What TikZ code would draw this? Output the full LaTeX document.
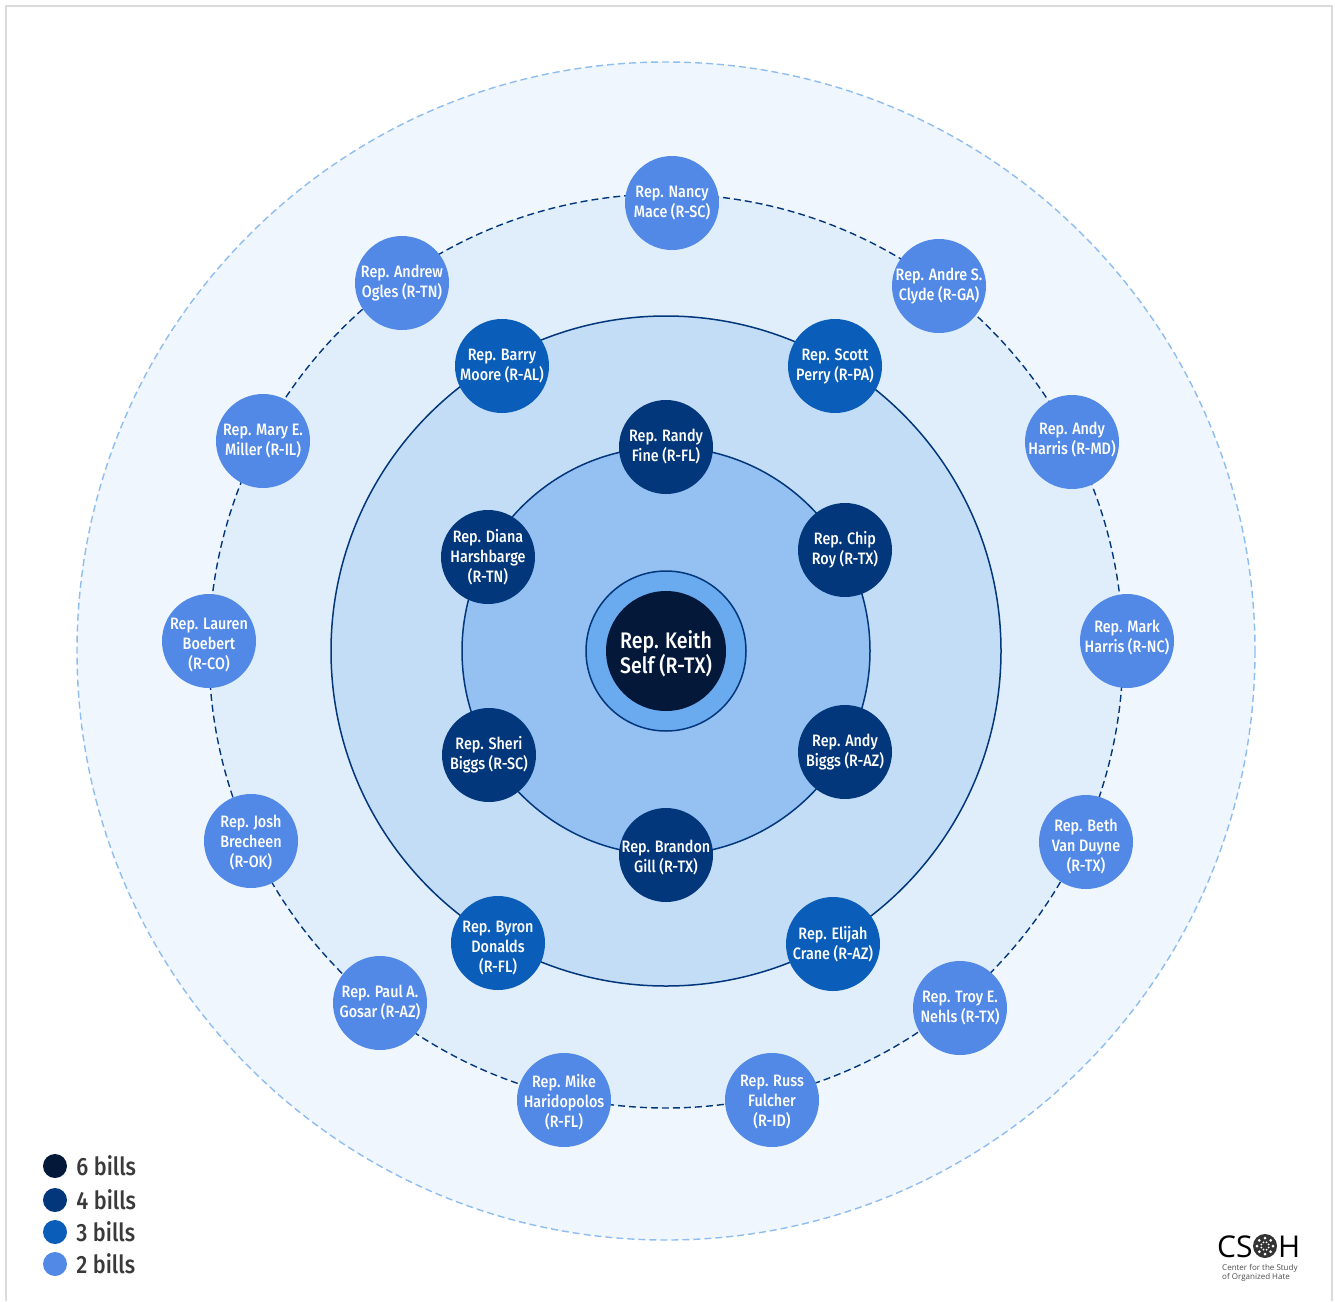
\documentclass[tikz,border=0pt]{standalone}
\usepackage{fontspec}
\usetikzlibrary{positioning}
\newfontfamily\namefont[FakeStretch=0.87,UprightFont={* Medium}]{Fira Sans}
\newfontfamily\logofont{Open Sans}
\definecolor{bill6col}{HTML}{04183A}
\definecolor{bill4col}{HTML}{03377B}
\definecolor{bill3col}{HTML}{0A5DB8}
\definecolor{bill2col}{HTML}{5289E6}
\definecolor{keycol}{HTML}{3A3A3A}
\definecolor{ringa}{HTML}{EFF6FD}
\definecolor{ringb}{HTML}{E0EEFB}
\definecolor{ringc}{HTML}{C3DDF7}
\definecolor{ringd}{HTML}{94C1F1}
\definecolor{ringe}{HTML}{6AABEF}
\definecolor{ringline}{HTML}{8FBDF0}
\begin{document}
\begin{tikzpicture}[x=1pt,y=-1pt,
	billfont/.style={font=\namefont\fontsize{16.5}{20}\selectfont},
	bill/.style={circle,minimum size=94pt,inner sep=0pt,align=center,text=white,billfont},
	bill2/.style={bill,fill=bill2col},
	bill3/.style={bill,fill=bill3col},
	bill4/.style={bill,fill=bill4col},
	billtext/.style={inner sep=0pt,align=center,text=white,billfont},
	ringdash/.style={dash pattern=on 7pt off 4pt,line width=1.4pt},
	key/.style={circle,minimum size=24pt,inner sep=0pt},
	keytext/.style={right=9pt,inner sep=0pt,text=keycol,font=\namefont\fontsize{25}{28}\selectfont}]
\useasboundingbox (0,0) rectangle (1335,1301);
\draw[line width=2pt,draw=black!14] (6,1301) -- (6,6) -- (1332,6) -- (1332,1301);
% rings
\coordinate (mid) at (666,651);
\draw[draw=ringline,fill=ringa,ringdash] (mid) circle (589);
\draw[draw=bill4col,fill=ringb,ringdash] (mid) circle (457);
\draw[draw=bill4col,fill=ringc,line width=1.5pt] (mid) circle (335);
\draw[draw=bill4col,fill=ringd,line width=1.5pt] (mid) circle (204);
\draw[draw=bill4col,fill=ringe,line width=1.5pt] (mid) circle (80);
% 6 bills
\node[bill,fill=bill6col,minimum size=120pt,label={[billtext,yshift=-2.5pt,font=\namefont\fontsize{22.5}{25}\selectfont]center:Rep. Keith\\Self (R-TX)}] (self) at (mid) {};
% 4 bills
\node[bill4] (fine) at (666,447) {Rep. Randy\\Fine (R-FL)};
\node[bill4] (roy) at (845,550) {Rep. Chip\\Roy (R-TX)};
\node[bill4] (abiggs) at (845,752) {Rep. Andy\\Biggs (R-AZ)};
\node[bill4,label={[billtext,yshift=-3pt]center:Rep. Brandon\\Gill (R-TX)}] (gill) at (666,855) {};
\node[bill4] (sbiggs) at (489,755) {Rep. Sheri\\Biggs (R-SC)};
\node[bill4] (harsh) at (488,557) {Rep. Diana\\Harshbarge\\(R-TN)};
% 3 bills
\node[bill3] (moore) at (502,366) {Rep. Barry\\Moore (R-AL)};
\node[bill3] (perry) at (835,366) {Rep. Scott\\Perry (R-PA)};
\node[bill3] (crane) at (833,944) {Rep. Elijah\\Crane (R-AZ)};
\node[bill3,label={[billtext,yshift=-5pt]center:Rep. Byron\\Donalds\\(R-FL)}] (donalds) at (498,943) {};
% 2 bills
\node[bill2] (mace) at (672,203) {Rep. Nancy\\Mace (R-SC)};
\node[bill2] (clyde) at (939,286) {Rep. Andre S.\\Clyde (R-GA)};
\node[bill2,label={[billtext,yshift=2pt]center:Rep. Andy\\Harris (R-MD)}] (aharris) at (1072,442) {};
\node[bill2,label={[billtext,yshift=3pt]center:Rep. Mark\\Harris (R-NC)}] (mharris) at (1127,641) {};
\node[bill2,label={[billtext,yshift=-5pt]center:Rep. Beth\\Van Duyne\\(R-TX)}] (duyne) at (1086,842) {};
\node[bill2] (nehls) at (960,1008) {Rep. Troy E.\\Nehls (R-TX)};
\node[bill2,label={[billtext,yshift=-2pt]center:Rep. Russ\\Fulcher\\(R-ID)}] (fulcher) at (772,1100) {};
\node[bill2,label={[billtext,yshift=-2pt]center:Rep. Mike\\Haridopolos\\(R-FL)}] (hari) at (564,1100) {};
\node[bill2] (gosar) at (380,1003) {Rep. Paul A.\\Gosar (R-AZ)};
\node[bill2,label={[billtext,yshift=-2pt]center:Rep. Josh\\Brecheen\\(R-OK)}] (brecheen) at (251,841) {};
\node[bill2,label={[billtext,yshift=-4pt]center:Rep. Lauren\\Boebert\\(R-CO)}] (boebert) at (209,641) {};
\node[bill2] (miller) at (263,441) {Rep. Mary E.\\Miller (R-IL)};
\node[bill2] (ogles) at (402,283) {Rep. Andrew\\Ogles (R-TN)};
% legend
\node[key,fill=bill6col] (key6) at (55,1166) {};
\node[key,fill=bill4col] (key4) at (55,1200) {};
\node[key,fill=bill3col] (key3) at (55,1232) {};
\node[key,fill=bill2col] (key2) at (55,1264) {};
\node[keytext] at (key6.east) {6 bills};
\node[keytext] at (key4.east) {4 bills};
\node[keytext] at (key3.east) {3 bills};
\node[keytext] at (key2.east) {2 bills};
% logo
\node[inner sep=0pt,anchor=west,font=\logofont\fontsize{30}{30}\selectfont] (cs) at (1217,1247) {CS};
\node[circle,minimum size=24pt,inner sep=0pt,fill=black!80] (globe) at (1265,1246) {};
\node[inner sep=0pt,anchor=west,font=\logofont\fontsize{30}{30}\selectfont] (h) at (1278,1247) {H};
\foreach \a in {0,45,...,315} \fill[white] (globe) ++(\a:8) circle (1.5) (globe) ++(\a+22:4) circle (1);
\node[inner sep=0pt,anchor=north west,align=left,text=black!70,font=\logofont\fontsize{8}{9.5}\selectfont] (csoh) at (1222,1264) {Center for the Study\\of Organized Hate};
\end{tikzpicture}
\end{document}
